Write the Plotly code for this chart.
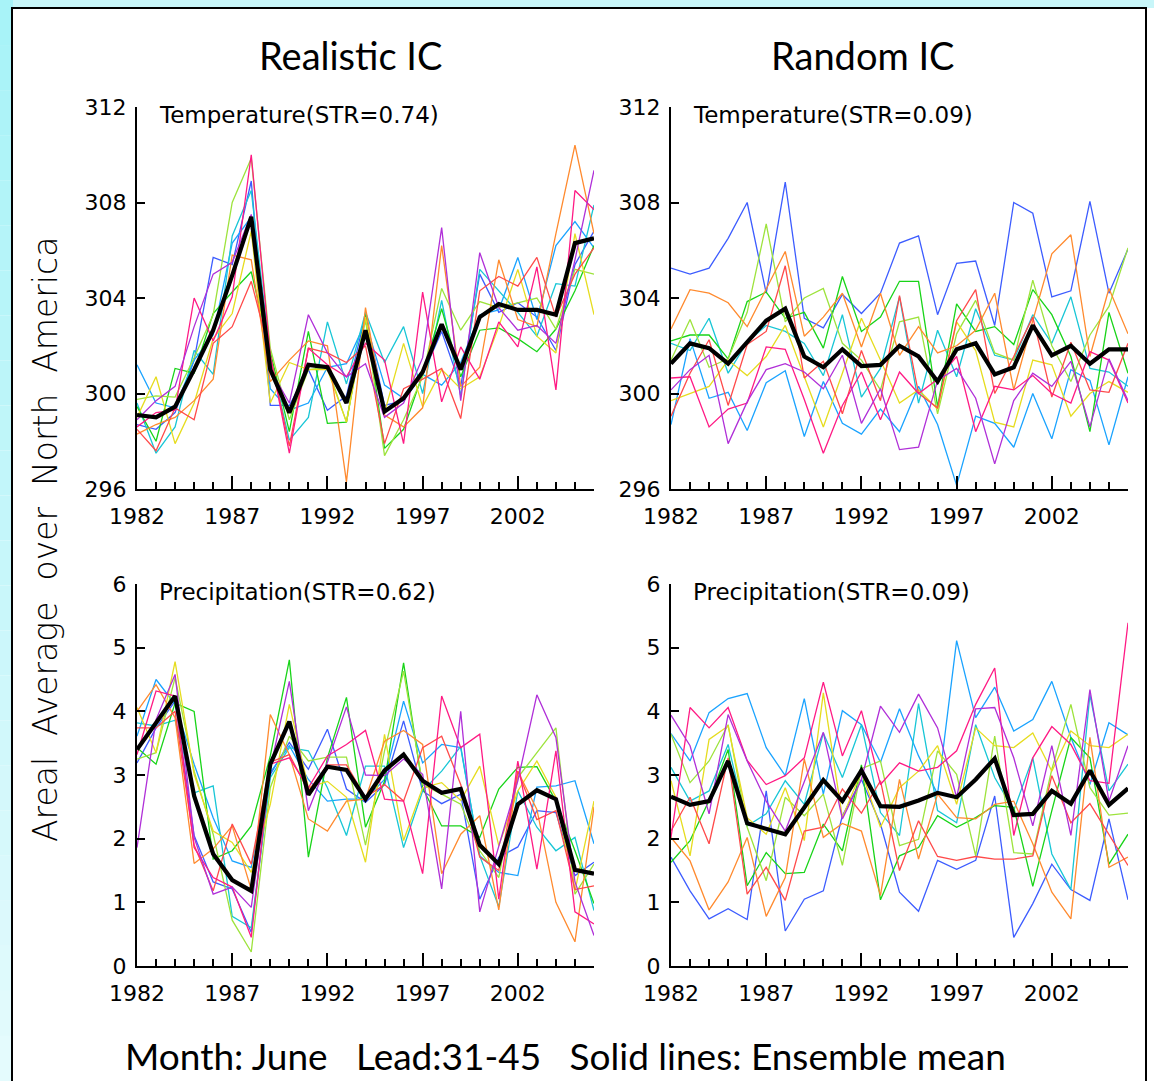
import plotly.graph_objects as go

# ---------------------------------------------------------------- data
years = list(range(1982, 2007))

# Temperature, realistic initial conditions
tl_mean = [299.1, 299.0, 299.45, 301.0, 302.65, 304.95, 307.4, 301.0, 299.2, 301.2, 301.1, 299.6, 302.65,
           299.25, 299.8, 300.9, 302.9, 301.0, 303.2, 303.75, 303.5, 303.5, 303.3, 306.3, 306.5]
tl_blue = [298.7, 298.5, 299.2, 301.4, 305.7, 305.4, 308.9, 299.5, 299.5, 301.0, 299.3, 299.9, 303.3,
           299.5, 299.7, 300.8, 302.6, 300.3, 305.0, 303.4, 303.8, 303.2, 301.8, 305.4, 306.8]
tl_sky = [301.2, 299.6, 299.4, 301.4, 302.45, 306.3, 307.4, 300.2, 299.3, 299.6, 301.1, 301.25, 303.0,
          300.35, 299.8, 300.8, 300.35, 301.3, 303.3, 303.5, 305.7, 303.1, 306.2, 307.2, 306.1]
tl_cyan = [299.6, 297.5, 298.6, 301.8, 300.8, 306.6, 308.5, 301.5, 298.05, 299.0, 303.0, 300.4, 303.4,
           301.3, 302.8, 300.0, 303.9, 299.9, 305.2, 304.3, 303.4, 302.4, 304.6, 304.5, 307.9]
tl_green = [299.45, 298.0, 301.05, 300.85, 303.35, 304.25, 305.1, 301.7, 298.4, 302.6, 298.75, 298.8, 303.3,
            297.7, 298.5, 300.8, 303.55, 300.7, 302.65, 302.75, 302.3, 301.75, 302.7, 304.3, 306.2]
tl_lime = [299.75, 299.9, 299.85, 301.5, 303.3, 308.0, 309.85, 301.9, 298.9, 301.0, 301.1, 298.8, 303.1,
           297.4, 298.9, 300.7, 304.4, 302.65, 303.85, 303.6, 303.8, 304.0, 302.7, 305.2, 305.0]
tl_yellow = [299.0, 300.7, 297.9, 299.6, 302.3, 303.35, 306.8, 299.6, 301.3, 301.0, 301.0, 298.8, 303.2,
             299.2, 302.1, 299.45, 301.0, 300.2, 300.7, 302.8, 305.2, 302.4, 301.7, 306.7, 303.3]
tl_orange = [298.3, 298.7, 299.0, 299.7, 300.6, 305.8, 305.6, 300.5, 301.4, 302.2, 302.0, 296.3, 303.6,
             299.1, 298.6, 299.4, 306.2, 300.3, 301.1, 305.6, 303.1, 302.8, 306.7, 310.4, 306.7]
tl_red = [298.5, 297.6, 299.4, 298.9, 302.1, 302.8, 304.7, 301.6, 297.8, 301.9, 301.7, 301.3, 302.0,
          297.9, 300.2, 300.6, 301.05, 298.95, 304.3, 304.9, 304.5, 305.7, 303.2, 305.0, 306.1]
tl_pink = [298.6, 299.2, 299.3, 304.0, 302.2, 304.05, 310.0, 301.6, 297.5, 301.9, 301.2, 300.7, 302.1,
           301.4, 297.9, 304.25, 299.65, 301.95, 300.6, 303.0, 301.95, 305.3, 300.15, 308.5, 307.7]
tl_purple = [298.9, 299.7, 300.3, 302.8, 305.0, 305.5, 307.5, 301.0, 299.6, 303.3, 301.7, 300.7, 301.25,
             299.0, 299.6, 301.5, 306.95, 299.7, 305.9, 303.6, 302.65, 302.85, 302.1, 305.6, 309.35]

# Temperature, random initial conditions
tr_mean = [301.25, 302.1, 301.9, 301.25, 302.15, 303.05, 303.55, 301.55, 301.1, 301.85, 301.15, 301.2, 302.0,
           301.55, 300.5, 301.85, 302.1, 300.8, 301.1, 302.85, 301.6, 302.0, 301.25, 301.85, 301.85]
tr_blue = [305.25, 305.0, 305.25, 306.5, 308.0, 304.2, 308.85, 303.15, 302.75, 304.15, 303.35, 304.2, 306.3,
           306.6, 303.3, 305.45, 305.55, 302.85, 308.0, 307.55, 304.05, 304.3, 308.05, 304.2, 306.05]
tr_sky = [298.7, 302.3, 299.8, 300.05, 298.45, 300.45, 300.95, 298.2, 300.5, 298.75, 298.3, 299.35, 298.4,
          300.3, 298.7, 296.15, 299.05, 298.75, 297.75, 300.0, 298.1, 301.0, 300.55, 297.85, 300.7]
tr_cyan = [302.1, 301.8, 303.15, 300.85, 302.15, 302.85, 302.6, 302.1, 300.75, 303.3, 299.85, 301.05, 304.05,
           299.6, 302.65, 300.7, 303.55, 301.6, 301.4, 303.3, 302.1, 304.05, 301.05, 300.9, 300.3]
tr_green = [302.2, 302.45, 302.45, 301.45, 303.85, 304.25, 303.15, 303.4, 301.9, 304.9, 302.6, 303.2, 304.7,
            304.7, 299.45, 303.75, 302.6, 302.8, 302.05, 304.35, 303.3, 301.55, 298.4, 303.4, 300.85]
tr_lime = [301.4, 303.1, 301.1, 301.45, 303.4, 307.1, 303.0, 304.0, 304.4, 302.1, 301.4, 300.15, 303.0,
           303.2, 299.15, 302.5, 303.9, 301.7, 301.4, 304.75, 302.0, 300.5, 302.45, 303.65, 306.1]
tr_yellow = [299.7, 300.0, 300.3, 301.4, 300.75, 301.55, 302.85, 300.7, 298.6, 300.85, 303.15, 301.4, 299.6,
             300.15, 299.35, 303.0, 301.8, 298.8, 298.6, 301.4, 301.2, 299.05, 300.0, 300.5, 300.05]
tr_orange = [302.7, 304.35, 304.2, 303.8, 302.8, 304.4, 305.95, 302.4, 303.2, 304.2, 301.95, 304.2, 301.6,
             302.8, 301.7, 302.0, 302.65, 304.2, 300.15, 303.05, 305.85, 306.65, 301.55, 304.4, 302.5]
tr_red = [299.05, 300.85, 302.25, 299.5, 302.05, 302.6, 305.35, 300.65, 301.35, 299.15, 301.8, 299.7, 304.1,
          300.0, 299.4, 303.05, 304.35, 300.0, 301.55, 303.2, 299.85, 302.15, 300.15, 300.05, 302.1]
tr_pink = [300.65, 300.7, 298.6, 299.35, 299.6, 301.95, 301.85, 299.75, 297.5, 299.5, 300.9, 298.9, 300.9,
           300.0, 300.6, 301.55, 298.4, 300.3, 300.15, 300.75, 300.0, 299.6, 301.75, 301.4, 299.6]
tr_purple = [300.15, 301.0, 301.6, 297.9, 299.65, 301.0, 301.25, 300.9, 300.2, 301.6, 298.75, 300.2, 297.65,
             297.75, 300.55, 301.05, 299.8, 297.05, 299.7, 300.85, 300.3, 301.35, 298.6, 301.45, 299.7]

# Precipitation, realistic initial conditions
bl_mean = [3.40, 3.82, 4.24, 2.67, 1.76, 1.35, 1.18, 3.17, 3.84, 2.69, 3.13, 3.08, 2.62,
           3.07, 3.32, 2.91, 2.72, 2.78, 1.90, 1.60, 2.54, 2.76, 2.62, 1.51, 1.45]
bl_blue = [3.19, 3.74, 4.16, 2.05, 1.32, 1.21, 0.53, 3.01, 3.51, 3.09, 3.72, 2.78, 2.57,
           2.85, 3.85, 2.75, 2.55, 2.7, 1.05, 1.71, 1.87, 2.44, 2.41, 1.42, 1.63]
bl_sky = [3.61, 4.5, 4.11, 3.17, 2.33, 1.65, 1.55, 3.04, 3.46, 2.93, 2.59, 2.62, 2.62,
          2.93, 4.16, 3.19, 3.48, 3.43, 1.73, 1.47, 1.42, 2.81, 2.83, 2.91, 1.92]
bl_cyan = [3.82, 3.77, 3.86, 2.72, 2.83, 0.78, 0.6, 2.96, 3.43, 3.38, 2.8, 2.05, 3.14,
           3.14, 1.86, 2.75, 3.06, 3.45, 1.73, 0.93, 2.75, 2.18, 1.81, 2.02, 0.87]
bl_green = [3.43, 3.17, 4.13, 4.0, 1.68, 1.81, 2.2, 3.3, 4.81, 1.71, 3.27, 4.22, 2.18,
            2.9, 4.76, 2.8, 2.2, 2.2, 2.02, 2.78, 3.12, 3.13, 2.59, 1.81, 0.98]
bl_lime = [3.25, 3.35, 4.53, 3.06, 2.07, 0.72, 0.22, 2.8, 3.61, 3.22, 3.28, 3.28, 1.9,
           3.38, 4.63, 2.85, 2.7, 2.54, 1.81, 1.39, 2.96, 3.35, 3.74, 1.13, 1.6]
bl_yellow = [4.06, 3.35, 4.78, 3.01, 2.12, 1.94, 1.47, 2.54, 4.11, 2.8, 2.9, 2.65, 1.63,
             3.64, 1.97, 2.8, 2.88, 2.6, 3.14, 1.89, 2.75, 3.22, 2.65, 1.18, 2.59]
bl_orange = [4.0, 4.42, 3.9, 1.61, 1.84, 2.2, 1.2, 3.95, 3.32, 2.31, 2.12, 2.59, 2.62,
             3.53, 3.7, 3.48, 1.45, 2.07, 2.36, 0.88, 3.06, 2.46, 1.0, 0.38, 2.5]
bl_red = [3.74, 3.74, 4.0, 1.9, 1.18, 2.23, 1.6, 3.2, 3.32, 2.75, 3.16, 3.16, 2.65,
          2.85, 2.59, 3.43, 3.61, 2.85, 1.71, 1.5, 3.06, 2.3, 2.44, 1.2, 1.26]
bl_pink = [3.32, 4.32, 4.24, 1.86, 1.39, 1.24, 0.45, 3.17, 3.27, 2.8, 3.3, 3.48, 3.7,
           2.62, 2.59, 1.45, 4.24, 3.43, 3.64, 1.05, 3.22, 1.52, 3.38, 0.85, 0.66]
bl_purple = [1.86, 3.87, 4.58, 2.02, 1.13, 1.24, 0.92, 3.1, 4.47, 2.44, 3.2, 4.07, 3.0,
             2.99, 3.25, 3.01, 1.21, 4.0, 0.85, 1.86, 2.91, 4.26, 3.59, 1.32, 0.48]

# Precipitation, random initial conditions
br_mean = [2.66, 2.53, 2.59, 3.22, 2.24, 2.15, 2.07, 2.49, 2.92, 2.59, 3.07, 2.51, 2.5,
           2.6, 2.72, 2.65, 2.93, 3.26, 2.37, 2.39, 2.75, 2.55, 3.07, 2.53, 2.79]
br_blue = [1.71, 1.18, 0.74, 0.9, 0.73, 2.75, 0.55, 1.05, 1.18, 2.36, 2.93, 2.23, 1.16,
           0.86, 1.66, 1.52, 1.66, 2.67, 0.45, 0.98, 1.6, 1.2, 1.03, 2.31, 1.04]
br_sky = [3.65, 3.22, 3.98, 4.2, 4.28, 3.43, 2.99, 4.2, 2.7, 4.01, 3.79, 3.2, 4.04,
          3.3, 2.7, 5.11, 3.9, 4.38, 3.69, 3.87, 4.47, 3.59, 2.85, 3.82, 3.63]
br_cyan = [3.12, 2.59, 2.75, 3.48, 2.2, 2.39, 2.91, 2.54, 3.66, 2.96, 3.79, 2.41, 2.05,
           4.12, 2.44, 2.25, 3.79, 2.96, 2.44, 3.27, 1.76, 1.2, 4.26, 2.75, 3.17]
br_green = [1.63, 1.97, 2.6, 3.4, 1.26, 1.78, 1.45, 1.47, 2.23, 1.81, 3.16, 1.04, 1.73,
            1.86, 2.36, 2.18, 2.33, 2.52, 2.49, 1.25, 2.44, 3.59, 3.27, 1.6, 2.07]
br_lime = [3.64, 2.88, 3.22, 3.79, 2.18, 1.34, 2.65, 2.36, 2.7, 1.58, 3.1, 3.22, 1.89,
           1.99, 3.38, 3.01, 1.73, 3.61, 1.78, 1.76, 3.09, 4.11, 2.8, 2.37, 2.4]
br_yellow = [2.91, 1.73, 3.56, 3.77, 2.33, 2.07, 2.8, 1.97, 4.29, 2.33, 3.06, 2.18, 2.8,
             3.06, 3.46, 2.54, 3.74, 3.46, 3.43, 3.66, 3.06, 3.69, 3.46, 3.43, 3.64]
br_orange = [2.02, 1.65, 0.88, 1.32, 2.02, 0.78, 1.39, 3.25, 2.02, 2.24, 2.12, 1.11, 2.93,
             1.68, 2.7, 2.33, 2.31, 2.54, 2.59, 1.92, 1.16, 0.74, 3.59, 1.55, 1.71]
br_red = [2.12, 2.65, 1.92, 3.27, 1.13, 1.55, 1.03, 2.12, 2.18, 2.78, 2.4, 2.91, 1.5,
          2.28, 1.72, 1.66, 1.72, 1.68, 1.68, 1.73, 2.99, 2.25, 2.55, 2.07, 1.58]
br_pink = [2.02, 4.06, 3.74, 4.06, 3.23, 2.85, 2.99, 3.27, 4.46, 3.3, 4.01, 2.85, 3.19,
           3.06, 3.12, 3.38, 4.11, 4.68, 2.05, 3.27, 3.76, 3.48, 2.91, 2.87, 5.39]
br_purple = [3.94, 3.46, 2.39, 3.95, 3.22, 2.59, 2.12, 2.9, 3.67, 2.31, 2.93, 4.08, 3.67,
             4.27, 3.74, 2.65, 4.04, 4.06, 3.27, 2.2, 3.46, 2.05, 4.34, 2.59, 3.46]

panel_labels = ["Temperature(STR=0.74)", "Temperature(STR=0.09)",
                "Precipitation(STR=0.62)", "Precipitation(STR=0.09)"]
column_titles = ["Realistic IC", "Random IC"]
y_title = "Areal Average over North America"
caption = "Month: June   Lead:31-45   Solid lines: Ensemble mean"

# ---------------------------------------------------------------- styling
W, H = 1154, 1081
member_colors = {
    "blue": "#3c5cff", "sky": "#1aa3ff", "cyan": "#18c6d6", "green": "#18d418",
    "lime": "#9de33c", "yellow": "#e6dc1e", "orange": "#ff8a2e", "red": "#ff4a4a",
    "pink": "#ff1a84", "purple": "#b02fd8",
}
panels = [
    dict(mean=tl_mean, members=dict(blue=tl_blue, sky=tl_sky, cyan=tl_cyan, green=tl_green, lime=tl_lime,
                                    yellow=tl_yellow, orange=tl_orange, red=tl_red, pink=tl_pink, purple=tl_purple)),
    dict(mean=tr_mean, members=dict(blue=tr_blue, sky=tr_sky, cyan=tr_cyan, green=tr_green, lime=tr_lime,
                                    yellow=tr_yellow, orange=tr_orange, red=tr_red, pink=tr_pink, purple=tr_purple)),
    dict(mean=bl_mean, members=dict(blue=bl_blue, sky=bl_sky, cyan=bl_cyan, green=bl_green, lime=bl_lime,
                                    yellow=bl_yellow, orange=bl_orange, red=bl_red, pink=bl_pink, purple=bl_purple)),
    dict(mean=br_mean, members=dict(blue=br_blue, sky=br_sky, cyan=br_cyan, green=br_green, lime=br_lime,
                                    yellow=br_yellow, orange=br_orange, red=br_red, pink=br_pink, purple=br_purple)),
]

# plot-area boxes in pixels: (left, right, top, bottom)
boxes = [(137, 594, 107, 489), (671, 1128, 107, 489),
         (137, 594, 584, 966), (671, 1128, 584, 966)]
y_ranges = [(296, 312, 4), (296, 312, 4), (0, 6, 1), (0, 6, 1)]

def px(x):
    return x / W

def py(y):
    return 1 - y / H

tick_font = dict(family="DejaVu Sans", size=22, color="black")
label_font = dict(family="DejaVu Sans", size=23, color="black")

fig = go.Figure()

for k, panel in enumerate(panels):
    n = k + 1
    xa = "x" if n == 1 else f"x{n}"
    ya = "y" if n == 1 else f"y{n}"
    for name, vals in panel["members"].items():
        fig.add_trace(go.Scatter(x=years, y=vals, mode="lines", xaxis=xa, yaxis=ya,
                                 line=dict(color=member_colors[name], width=1.3),
                                 showlegend=False, hoverinfo="skip"))
    fig.add_trace(go.Scatter(x=years, y=panel["mean"], mode="lines", xaxis=xa, yaxis=ya,
                             line=dict(color="black", width=4.2),
                             showlegend=False, hoverinfo="skip"))

    l, r, t, b = boxes[k]
    y0, y1, dy = y_ranges[k]
    fig.layout[f"xaxis{'' if n == 1 else n}"] = dict(
        domain=[px(l), px(r)], anchor=ya, range=[1982, 2006], automargin=False,
        showgrid=False, zeroline=False, showline=True, linecolor="black", linewidth=2,
        ticks="inside", tick0=1982, dtick=5, ticklen=13, tickwidth=1.5, tickcolor="black",
        minor=dict(dtick=1, tick0=1982, ticks="inside", ticklen=7, tickwidth=1.5, tickcolor="black"),
        tickfont=tick_font, ticklabelstandoff=7,
    )
    fig.layout[f"yaxis{'' if n == 1 else n}"] = dict(
        domain=[py(b), py(t)], anchor=xa, range=[y0, y1], automargin=False,
        showgrid=False, zeroline=False, showline=True, linecolor="black", linewidth=2,
        ticks="inside", tick0=y0, dtick=dy, ticklen=8, tickwidth=1.5, tickcolor="black",
        tickfont=tick_font, ticklabelstandoff=4,
    )

annotations = []
# panel labels
for k, text in enumerate(panel_labels):
    l, r, t, b = boxes[k]
    annotations.append(dict(text=text, x=px(l + 20), y=py(t + 8), xref="paper", yref="paper",
                            xanchor="left", yanchor="middle", showarrow=False, font=label_font))
# column titles
for text, cx in zip(column_titles, [350, 862]):
    annotations.append(dict(text=text, x=px(cx), y=py(55), xref="paper", yref="paper",
                            xanchor="center", yanchor="middle", showarrow=False,
                            font=dict(family="Lato", size=38, color="black")))
# shared y-axis title
annotations.append(dict(text=y_title.replace(" ", " \u00a0"), x=px(45), y=py(540),
                        xref="paper", yref="paper", textangle=-90,
                        xanchor="center", yanchor="middle", showarrow=False,
                        font=dict(family="DejaVu Sans", size=33, color="black", weight=200)))
# caption
annotations.append(dict(text=caption.replace("   ", "\u00a0\u00a0\u00a0"), x=px(565), y=py(1055),
                        xref="paper", yref="paper", xanchor="center", yanchor="middle",
                        showarrow=False, font=dict(family="Lato", size=37, color="black")))

# page background: cyan strip fading down the left edge, white framed sheet
shapes = []
n_bands = 24
for i in range(n_bands):
    f = i / (n_bands - 1)
    r_ = int(168 + (228 - 168) * f)
    g_ = int(243 + (251 - 243) * f)
    b_ = int(248 + (253 - 248) * f)
    shapes.append(dict(type="rect", xref="paper", yref="paper", layer="below",
                       x0=0, x1=px(13), y0=py(H * (i + 1) / n_bands), y1=py(H * i / n_bands),
                       fillcolor=f"rgb({r_},{g_},{b_})", line=dict(width=0)))
shapes.append(dict(type="rect", xref="paper", yref="paper", layer="below",
                   x0=px(13), x1=1, y0=py(8), y1=1, fillcolor="#c8f6f9", line=dict(width=0)))
shapes.append(dict(type="rect", xref="paper", yref="paper", layer="below",
                   x0=px(12), x1=px(1146), y0=py(H + 4), y1=py(8),
                   fillcolor="white", line=dict(color="black", width=2)))

fig.update_layout(
    width=W, height=H, autosize=False,
    margin=dict(l=0, r=0, t=0, b=0, pad=0, autoexpand=False),
    paper_bgcolor="white", plot_bgcolor="rgba(0,0,0,0)",
    showlegend=False, annotations=annotations, shapes=shapes,
)

fig.write_html("out.html")
